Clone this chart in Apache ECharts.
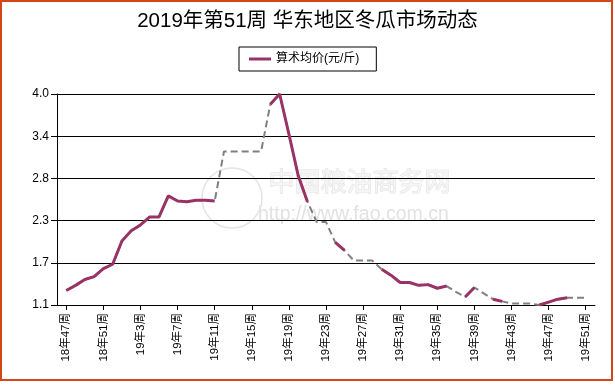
<!DOCTYPE html>
<html>
<head>
<meta charset="utf-8">
<script src="https://cdn.jsdelivr.net/npm/echarts@6/dist/echarts.min.js"></script>
<style>
html,body{margin:0;padding:0;background:#fff;}
#c{width:615px;height:385px;}
</style>
</head>
<body>
<div id="c"></div>
<script>
// Week categories
const categories = [
  '18年47周','18年48周','18年49周','18年50周','18年51周','18年52周',
  '19年1周','19年2周','19年3周','19年4周','19年5周','19年6周','19年7周','19年8周','19年9周','19年10周',
  '19年11周','19年12周','19年13周','19年14周','19年15周','19年16周','19年17周','19年18周','19年19周','19年20周',
  '19年21周','19年22周','19年23周','19年24周','19年25周','19年26周','19年27周','19年28周','19年29周','19年30周',
  '19年31周','19年32周','19年33周','19年34周','19年35周','19年36周','19年37周','19年38周','19年39周','19年40周',
  '19年41周','19年42周','19年43周','19年44周','19年45周','19年46周','19年47周','19年48周','19年49周','19年50周',
  '19年51周'
];
// Reported average prices (null = no report)
const avgPrice = [
  1.30,1.37,1.45,1.49,1.60,1.66,
  1.98,2.12,2.20,2.31,2.31,2.60,2.53,2.52,2.54,2.54,
  2.53,null,null,null,null,null,3.86,4.00,3.45,2.88,
  2.52,null,null,1.96,1.85,null,null,null,1.59,1.51,
  1.41,1.41,1.37,1.38,1.33,1.36,null,1.21,1.34,null,
  1.18,1.15,null,null,null,1.10,1.14,1.18,1.20,null,
  null
];
// Values filled in for the missing weeks (dashed connector)
const filledPrice = [
  null,null,null,null,null,null,
  null,null,null,null,null,null,null,null,null,null,
  null,3.21,3.21,3.21,3.21,3.21,null,null,null,null,
  null,2.24,2.24,null,null,1.71,1.71,1.71,null,null,
  null,null,null,null,null,null,1.28,null,null,1.26,
  null,null,1.12,1.12,1.12,null,null,null,null,1.20,
  1.20
];
const yTicks = [1.1, 4.0];

const dashedData = avgPrice.map((v, i) => v !== null ? v : filledPrice[i]);
const xData = [''].concat(categories, ['']);
const pad = arr => [null].concat(arr, [null]);

const FONT = '"Liberation Sans", "Noto Sans CJK SC", sans-serif';
const chart = echarts.init(document.getElementById('c'), null, {renderer: 'canvas'});
const showIdx = (idx) => idx >= 1 && idx <= categories.length && (idx - 1) % 4 === 0;

chart.setOption({
  backgroundColor: '#ffffff',
  animation: false,
  textStyle: {fontFamily: FONT},
  title: {
    text: '2019年第51周 华东地区冬瓜市场动态',
    left: 'center',
    top: 11,
    padding: 0,
    textStyle: {fontSize: 20.5, fontWeight: 'normal', color: '#000', fontFamily: FONT}
  },
  legend: {
    data: ['算术均价(元/斤)'],
    left: 239,
    top: 47,
    padding: [6, 17, 6, 10],
    borderColor: '#000',
    borderWidth: 1,
    borderRadius: 0,
    icon: 'rect',
    itemWidth: 22,
    itemHeight: 3,
    textStyle: {fontSize: 12, color: '#000', fontFamily: FONT}
  },
  grid: {left: 57, right: 20, top: 94, bottom: 80, containLabel: false},
  xAxis: {
    type: 'category',
    data: xData,
    boundaryGap: false,
    axisLine: {lineStyle: {color: '#000', width: 1}},
    axisTick: {show: true, length: 5, interval: (i) => showIdx(i), lineStyle: {color: '#000'}},
    axisLabel: {
      interval: (i) => showIdx(i),
      rotate: 90,
      margin: 8,
      fontSize: 11.5,
      color: '#000',
      fontFamily: FONT
    },
    splitLine: {show: false}
  },
  yAxis: {
    type: 'value',
    min: yTicks[0],
    max: yTicks[1],
    interval: 0.58,
    axisLine: {show: true, lineStyle: {color: '#000', width: 1}},
    axisTick: {show: true, length: 6, lineStyle: {color: '#000'}},
    axisLabel: {
      margin: 8,
      fontSize: 12,
      color: '#000',
      fontFamily: FONT,
      formatter: (v) => v.toFixed(1)
    },
    splitLine: {show: true, lineStyle: {color: '#000', width: 1}}
  },
  graphic: [
    {
      type: 'rect', z: -10, silent: true,
      shape: {x: 1, y: 1, width: 611, height: 379},
      style: {fill: null, stroke: '#d4461a', lineWidth: 2}
    },
    {
      type: 'circle', z: -5, silent: true,
      shape: {cx: 232, cy: 198, r: 30},
      style: {fill: null, stroke: '#e4e4e4', lineWidth: 1.5}
    },
    {
      type: 'text', z: -5, silent: true, left: 268, top: 168,
      style: {text: '中国粮油商务网', font: '26px "Noto Sans CJK SC"', fill: '#f5f5f5', stroke: '#e0e0e0', lineWidth: 1}
    },
    {
      type: 'text', z: -5, silent: true, left: 258, top: 205,
      style: {text: 'http://www.fao.com.cn', font: '19.5px "Liberation Sans"', fill: '#e2e2e2'}
    }
  ],
  series: [
    {
      name: '补齐',
      type: 'line',
      data: pad(dashedData),
      symbol: 'none',
      z: 2,
      lineStyle: {color: '#808080', width: 2, type: [7, 4]},
      itemStyle: {color: '#808080'},
      silent: true
    },
    {
      name: '算术均价(元/斤)',
      type: 'line',
      data: pad(avgPrice),
      symbol: 'none',
      z: 3,
      connectNulls: false,
      lineStyle: {color: '#993366', width: 3},
      itemStyle: {color: '#993366'}
    }
  ]
});
</script>
</body>
</html>
